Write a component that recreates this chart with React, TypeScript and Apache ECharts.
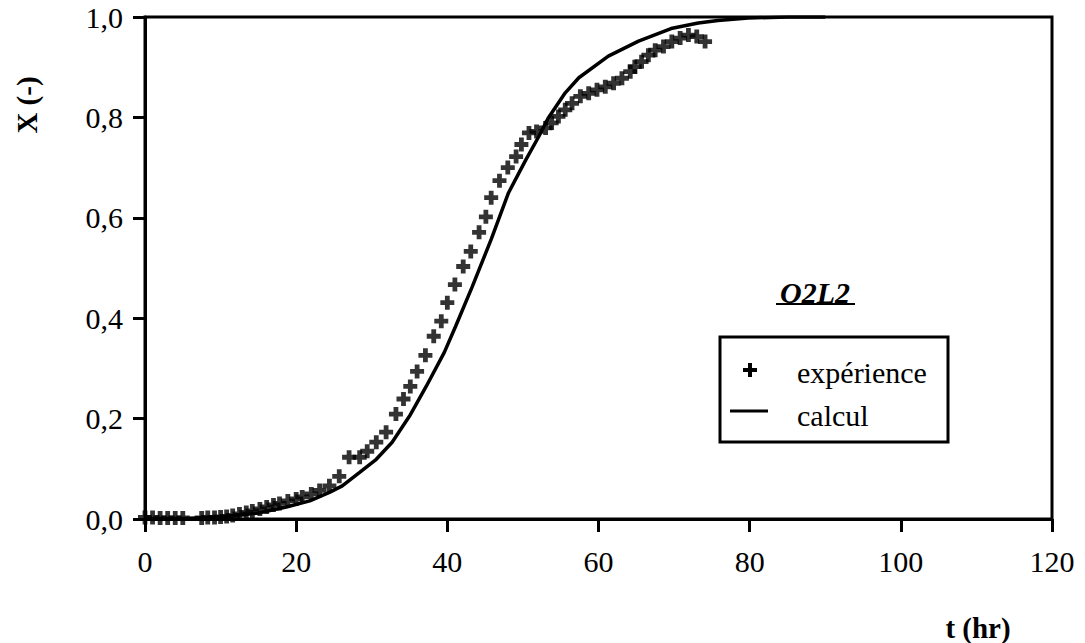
import React, { useEffect, useRef } from "react";
import * as echarts from "echarts";

const xTicks = [0, 20, 40, 60, 80, 100, 120];
const yTickLabels = ["0,0", "0,2", "0,4", "0,6", "0,8", "1,0"];

const expT = [0, 1, 2, 3, 4, 5, 7.5, 8.3, 9.2, 10, 10.8, 11.6, 12.5, 13.4, 14.2, 15.2, 16.1, 17,
  17.8, 18.9, 20, 20.8, 22, 23.1, 24.4, 25.7, 27, 28.4, 29.4, 30.6, 31.9, 33.2, 34.2, 35.1, 36, 37.1,
  38.2, 39.2, 40, 41, 42.1, 43.1, 44.2, 45.1, 45.8, 46.9, 48, 49.1, 49.8, 50.8, 51.8, 53, 53.8, 54.7,
  55.6, 56.5, 57.6, 58.7, 59.8, 60.9, 62, 63.1, 64.2, 64.8, 65.7, 66.6, 67.5, 68.6, 69.7, 70.8, 71.9, 73, 74.1];
const expX = [0.003, 0.003, 0.002, 0.002, 0.002, 0.002, 0.002, 0.003, 0.003, 0.004, 0.005, 0.007, 0.01, 0.013, 0.016, 0.02, 0.024, 0.028,
  0.031, 0.036, 0.04, 0.044, 0.05, 0.057, 0.066, 0.085, 0.123, 0.123, 0.135, 0.153, 0.173, 0.209, 0.239, 0.264, 0.294, 0.326,
  0.364, 0.394, 0.431, 0.467, 0.503, 0.533, 0.571, 0.602, 0.64, 0.674, 0.7, 0.722, 0.746, 0.769, 0.772, 0.779, 0.789, 0.802,
  0.815, 0.828, 0.842, 0.848, 0.855, 0.861, 0.868, 0.878, 0.891, 0.901, 0.911, 0.924, 0.934, 0.941, 0.951, 0.958, 0.964, 0.961, 0.951];

const calcT = [0, 5, 10, 15, 18.7, 21.8, 24.4, 26.1, 28.4, 30.6, 32.7, 35, 37.2, 39.6, 41.1, 43.3, 45.8, 48.1, 50.4, 52.1,
  53.4, 55.6, 57.4, 61.3, 65.3, 69.6, 73.2, 75.8, 79.8, 85, 90];
const calcX = [0, 0.001, 0.004, 0.012, 0.024, 0.036, 0.053, 0.066, 0.093, 0.119, 0.153, 0.205, 0.264, 0.332, 0.384, 0.463,
  0.557, 0.65, 0.716, 0.762, 0.8, 0.849, 0.879, 0.922, 0.952, 0.977, 0.988, 0.993, 0.998, 1.0, 1.0];

const seriesNames = ["expérience", "calcul"];
const titleText = "O2L2";
const xName = "t (hr)";
const yName = "X (-)";

const FONT = "Liberation Serif";
const PLUS = "path://M4.6,0 H9.4 V4.6 H14 V9.4 H9.4 V14 H4.6 V9.4 H0 V4.6 H4.6 Z";

export default function App() {
  const ref = useRef<HTMLDivElement>(null);
  useEffect(() => {
    if (!ref.current) return;
    const chart = echarts.init(ref.current, null, { renderer: "svg" });
    const txt = (extra: any) => ({ fill: "#000", fontFamily: FONT, ...extra });
    const option = {
      animation: false,
      backgroundColor: "#fff",
      textStyle: { fontFamily: FONT },
      grid: {
        left: 145, top: 17, right: 33, bottom: 124,
        show: true, borderColor: "#000", borderWidth: 3, backgroundColor: "transparent",
      },
      xAxis: {
        type: "value", min: xTicks[0], max: xTicks[xTicks.length - 1], interval: 20,
        axisLine: { show: true, onZero: false, lineStyle: { color: "#000", width: 3 } },
        axisTick: { show: true, inside: false, length: 13, lineStyle: { color: "#000", width: 3 } },
        axisLabel: { color: "#000", fontFamily: FONT, fontSize: 30, margin: 27 },
        splitLine: { show: false },
      },
      yAxis: {
        type: "value", min: 0, max: 1, interval: 0.2,
        axisLine: { show: true, lineStyle: { color: "#000", width: 3 } },
        axisTick: { show: true, inside: false, length: 12, lineStyle: { color: "#000", width: 3 } },
        axisLabel: {
          color: "#000", fontFamily: FONT, fontSize: 30, margin: 22,
          formatter: (v: number) => yTickLabels[Math.round(v / 0.2)] ?? "",
        },
        splitLine: { show: false },
      },
      series: [
        {
          name: seriesNames[1], type: "line", data: calcT.map((t, i) => [t, calcX[i]]),
          showSymbol: false, symbol: "none", smooth: false,
          lineStyle: { color: "#000", width: 3.5 }, z: 2,
        },
        {
          name: seriesNames[0], type: "scatter", data: expT.map((t, i) => [t, expX[i]]),
          symbol: PLUS, symbolSize: 14, itemStyle: { color: "#000" }, z: 3,
        },
      ],
      graphic: [
        {
          type: "text", x: 27, y: 105, rotation: Math.PI / 2,
          style: txt({ text: yName, fontSize: 29, fontWeight: "bold", align: "center", verticalAlign: "middle" }),
        },
        {
          type: "text", x: 978, y: 628,
          style: txt({ text: xName, fontSize: 29, fontWeight: "bold", align: "center", verticalAlign: "middle" }),
        },
        {
          type: "text", x: 815, y: 292,
          style: txt({ text: titleText, fontSize: 30, fontWeight: "bold", fontStyle: "italic", align: "center", verticalAlign: "middle" }),
        },
        { type: "line", shape: { x1: 776, y1: 304, x2: 855, y2: 304 }, style: { stroke: "#000", lineWidth: 2 } },
        {
          type: "rect", shape: { x: 720, y: 337, width: 228, height: 105 },
          style: { stroke: "#000", lineWidth: 3, fill: "#fff" }, z: 10,
        },
        {
          type: "polygon", z: 11,
          shape: { points: [[748, 363], [752, 363], [752, 368], [757, 368], [757, 372], [752, 372], [752, 377], [748, 377], [748, 372], [743, 372], [743, 368], [748, 368]] },
          style: { fill: "#000" },
        },
        { type: "line", z: 11, shape: { x1: 730, y1: 411, x2: 768, y2: 411 }, style: { stroke: "#000", lineWidth: 3 } },
        {
          type: "text", x: 797, y: 372, z: 11,
          style: txt({ text: seriesNames[0], fontSize: 30, align: "left", verticalAlign: "middle" }),
        },
        {
          type: "text", x: 797, y: 415, z: 11,
          style: txt({ text: seriesNames[1], fontSize: 30, align: "left", verticalAlign: "middle" }),
        },
      ],
    };
    chart.setOption(option);
    return () => chart.dispose();
  }, []);
  return (
    <div
      ref={ref}
      style={{ position: "fixed", left: 0, top: 0, width: 1085, height: 643, background: "#fff" }}
    />
  );
}
